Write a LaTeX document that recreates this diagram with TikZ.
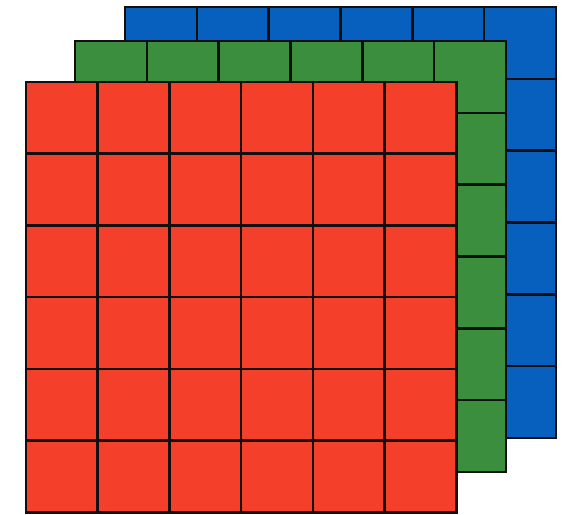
\documentclass[tikz,border=0pt]{standalone}
\definecolor{gridred}{RGB}{244,64,43}
\definecolor{gridgreen}{RGB}{58,142,62}
\definecolor{gridblue}{RGB}{8,96,190}
\definecolor{gridline}{RGB}{20,15,15}
\tikzset{
  layer/.style={draw=gridline, line width=2.6pt},
}
\newcommand{\gridlayer}[4]{%
  \fill[#3] (#1,#2) rectangle ++({6*#4},{6*#4});
  \foreach \i in {1,...,5} {
    \draw[layer] ({#1+#4*\i},#2) -- ++(0,{6*#4});
    \draw[layer] (#1,{#2+#4*\i}) -- ++({6*#4},0);
  }
  \draw[layer] (#1,#2) rectangle ++({6*#4},{6*#4});
}
\begin{document}
\begin{tikzpicture}[x=1pt,y=-1pt]
\useasboundingbox (0,0) rectangle (569,514);
\fill[white] (0,0) rectangle (569,514);
\gridlayer{125}{7}{gridblue}{71.8}
\gridlayer{75}{41}{gridgreen}{71.8}
\gridlayer{26}{82}{gridred}{71.7}
\end{tikzpicture}
\end{document}
